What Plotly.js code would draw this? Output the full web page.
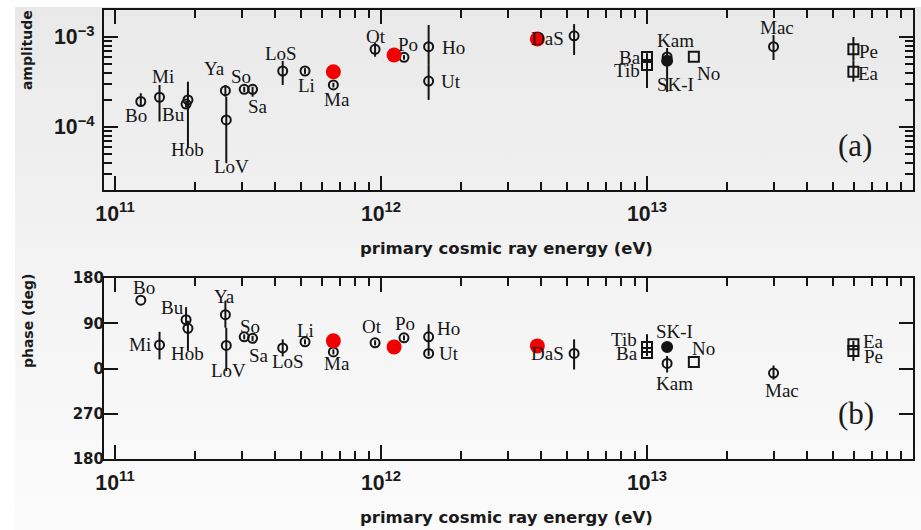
<!DOCTYPE html>
<html>
<head>
<meta charset="utf-8">
<script src="https://cdn.plot.ly/plotly-3.0.1.min.js"></script>
<style>
  html, body { margin: 0; padding: 0; background: #ffffff; }
  #wrap { position: relative; width: 921px; height: 530px; }
  #shade { position: absolute; left: 15px; top: 7px; right: 0; bottom: 0;
           background: linear-gradient(to bottom, #e9e9e9 0%, #f4f4f4 55%, #fbfbfb 100%); }
  #chart { position: absolute; left: 0; top: 0; width: 921px; height: 530px; }
</style>
</head>
<body>
<div id="wrap"><div id="shade"></div><div id="chart"></div></div>
<script>
// Sidereal first-harmonic anisotropy: amplitude and phase vs primary energy
const labels = ['Bo','Mi','Bu','Hob','Ya','LoV','So','Sa','LoS','Li','Ma','Ot','Po','Ho','Ut','DaS',
                'Ba','Tib','Kam','SK-I','No','Mac','Pe','Ea'];
const detectorType = ['underground','underground','underground','underground','underground','underground',
                      'underground','underground','underground','underground','underground','underground',
                      'underground','underground','underground','underground',
                      'air shower','air shower','underground','Super-K','air shower','underground',
                      'air shower','air shower'];
const energyEV = [1.25e11,1.47e11,1.85e11,1.88e11,2.60e11,2.62e11,3.06e11,3.29e11,4.27e11,5.18e11,
                  6.62e11,9.5e11,1.22e12,1.51e12,1.51e12,5.32e12,
                  1.0e13,1.0e13,1.19e13,1.19e13,1.5e13,2.99e13,5.97e13,5.97e13];
const amplitude = [1.92e-4,2.14e-4,1.80e-4,2.00e-4,2.53e-4,1.20e-4,2.62e-4,2.62e-4,4.19e-4,4.19e-4,
                   2.93e-4,7.30e-4,5.94e-4,7.80e-4,3.24e-4,1.03e-3,
                   6.00e-4,4.89e-4,6.00e-4,5.46e-4,6.05e-4,7.80e-4,7.30e-4,4.11e-4];
const amplitudeLow = [1.75e-4,1.15e-4,1.65e-4,5.8e-5,2.17e-4,3.96e-5,2.45e-4,2.17e-4,2.93e-4,3.90e-4,
                      2.75e-4,6.04e-4,5.60e-4,5.00e-4,2.00e-4,6.31e-4,
                      5.30e-4,2.71e-4,5.50e-4,2.45e-4,6.05e-4,5.55e-4,5.50e-4,3.19e-4];
const amplitudeHigh = [2.37e-4,2.93e-4,1.95e-4,3.19e-4,2.93e-4,2.17e-4,2.80e-4,2.80e-4,5.41e-4,4.50e-4,
                       3.10e-4,8.65e-4,6.30e-4,1.36e-3,5.00e-4,1.39e-3,
                       6.60e-4,5.50e-4,7.55e-4,6.00e-4,6.05e-4,1.05e-3,1.00e-3,5.50e-4];
const phaseDeg = [136,47,97,80,107,46,63,60,41,53,33,51,61,63,30,30,
                  31,43,10,43,13,-9,35,48];
const phaseLow = [136,18,85,35,81,-5,58,55,24,48,28,46,56,40,25,-2,
                  25,30,-8,35,13,-22,15,40];
const phaseHigh = [136,73,122,95,135,81,68,65,58,58,38,56,66,88,40,58,
                   40,68,25,52,13,6,42,55];

// Three points of the present analysis
const newEnergyEV = [6.62e11,1.12e12,3.87e12];
const newAmplitude = [4.11e-4,6.31e-4,9.5e-4];
const newPhaseDeg = [55,43,45];

const phaseTickVals = [-180,-90,0,90,180];
const phaseTickText = ['180','270','0','90','180'];

// drawing styles per detector type
const styleOf = {
  'underground': {symbol: 'circle-open', size: 9},
  'air shower':  {symbol: 'square-open', size: 10},
  'Super-K':     {symbol: 'circle', size: 10}
};

// label offsets in pixels (dx, dy) relative to each point
const ampLabelShift = {
  'Bo':[-5,-14],'Mi':[3,21],'Bu':[-13,-10],'Hob':[0,-50],'Ya':[-11,22],'LoV':[5,-47],
  'So':[-3,13],'Sa':[5,-17],'LoS':[-2,18],'Li':[1,-14],'Ma':[4,-15],'Ot':[1,13],'Po':[4,13],
  'Ho':[25,-1],'Ut':[22,0],'DaS':[-27,-3],'Ba':[-17,-1],'Tib':[-20,-6],'Kam':[8,16],
  'SK-I':[8,-24],'No':[15,-17],'Mac':[3,19],'Pe':[15,-2],'Ea':[15,-2]
};
const phaseLabelShift = {
  'Bo':[3,13],'Mi':[-20,0],'Bu':[-14,12],'Hob':[0,-25],'Ya':[-1,18],'LoV':[2,-25],
  'So':[6,10],'Sa':[6,-17],'LoS':[5,-14],'Li':[0,11],'Ma':[4,-12],'Ot':[-3,16],'Po':[1,14],
  'Ho':[20,8],'Ut':[20,0],'DaS':[-27,0],'Ba':[-20,-1],'Tib':[-23,7],'Kam':[7,-20],
  'SK-I':[7,15],'No':[10,13],'Mac':[8,-17],'Pe':[20,-6],'Ea':[20,3]
};

const ink = '#141414';
const traces = [];
Object.keys(styleOf).forEach(function (type) {
  const idx = [];
  detectorType.forEach(function (t, i) { if (t === type) idx.push(i); });
  const pick = function (arr) { return idx.map(function (i) { return arr[i]; }); };
  const st = styleOf[type];
  const marker = {symbol: st.symbol, size: st.size, color: ink, line: {color: ink, width: 2}};
  traces.push({
    x: pick(energyEV), y: pick(amplitude), xaxis: 'x', yaxis: 'y',
    type: 'scatter', mode: 'markers', marker: marker, showlegend: false, hoverinfo: 'skip',
    error_y: {type: 'data', symmetric: false,
              array: idx.map(function (i) { return amplitudeHigh[i] - amplitude[i]; }),
              arrayminus: idx.map(function (i) { return amplitude[i] - amplitudeLow[i]; }),
              color: ink, thickness: 2, width: 0}
  });
  traces.push({
    x: pick(energyEV), y: pick(phaseDeg), xaxis: 'x2', yaxis: 'y2',
    type: 'scatter', mode: 'markers', marker: marker, showlegend: false, hoverinfo: 'skip',
    error_y: {type: 'data', symmetric: false,
              array: idx.map(function (i) { return phaseHigh[i] - phaseDeg[i]; }),
              arrayminus: idx.map(function (i) { return phaseDeg[i] - phaseLow[i]; }),
              color: ink, thickness: 2, width: 0}
  });
});
const redMarker = {symbol: 'circle', size: 15, color: '#f20000', line: {width: 0}};
traces.push({x: newEnergyEV, y: newAmplitude, xaxis: 'x', yaxis: 'y', type: 'scatter',
             mode: 'markers', marker: redMarker, showlegend: false, hoverinfo: 'skip'});
traces.push({x: newEnergyEV, y: newPhaseDeg, xaxis: 'x2', yaxis: 'y2', type: 'scatter',
             mode: 'markers', marker: redMarker, showlegend: false, hoverinfo: 'skip'});

const labelFont = {family: 'Liberation Serif, Times New Roman, serif', size: 19, color: '#151515'};
const annotations = [];
labels.forEach(function (name, i) {
  const a = ampLabelShift[name], p = phaseLabelShift[name];
  annotations.push({xref: 'x', yref: 'y', x: Math.log10(energyEV[i]), y: Math.log10(amplitude[i]),
                    text: name, showarrow: false, xshift: a[0], yshift: a[1], font: labelFont,
                    xanchor: 'center', yanchor: 'middle'});
  annotations.push({xref: 'x2', yref: 'y2', x: Math.log10(energyEV[i]), y: phaseDeg[i],
                    text: name, showarrow: false, xshift: p[0], yshift: p[1], font: labelFont,
                    xanchor: 'center', yanchor: 'middle'});
});

const sideTitleFont = {family: 'DejaVu Sans, Liberation Sans, sans-serif', size: 14, color: '#1a1a1a', weight: 'bold'};
const baseTitleFont = {family: 'DejaVu Sans, Liberation Sans, sans-serif', size: 16.5, color: '#1a1a1a', weight: 'bold'};
const panelFont = {family: 'Liberation Serif, serif', size: 31, color: '#1a1a1a'};
function paperNote(x, y, text, font, angle) {
  return {xref: 'paper', yref: 'paper', x: x, y: y, text: text, showarrow: false, font: font,
          textangle: angle || 0, xanchor: 'center', yanchor: 'middle'};
}
annotations.push(
  paperNote(-0.095, 0.911, 'amplitude', sideTitleFont, -90),
  paperNote(-0.094, 0.307, 'phase (deg)', sideTitleFont, -90),
  paperNote(0.498, 0.468, 'primary cosmic ray energy (eV)', baseTitleFont),
  paperNote(0.498, -0.131, 'primary cosmic ray energy (eV)', baseTitleFont),
  paperNote(0.928, 0.699, '(a)', panelFont),
  paperNote(0.9295, 0.1024, '(b)', panelFont)
);

const logTickFont = {family: 'Liberation Sans, Arial, sans-serif', size: 17, color: '#1a1a1a', weight: 'bold'};
const phaseTickFont = {family: 'DejaVu Sans, sans-serif', size: 15, color: '#1a1a1a', weight: 'bold'};
const frame = {showline: true, linecolor: ink, linewidth: 2, mirror: 'ticks', ticks: 'inside',
               ticklen: 14, tickwidth: 2, tickcolor: ink, showgrid: false, zeroline: false,
               tickfont: logTickFont, fixedrange: true};
const logMinor = {ticks: 'inside', ticklen: 8, tickwidth: 2, tickcolor: ink, dtick: 'D1', showgrid: false};
function energyAxis(anchor) {
  return Object.assign({}, frame, {
    type: 'log', range: [10.9586, 14.0], domain: [0, 1], anchor: anchor,
    dtick: 1, exponentformat: 'power', showexponent: 'all', ticklabelstandoff: 4, minor: logMinor
  });
}

const layout = {
  width: 921, height: 530,
  margin: {l: 104, r: 8, t: 10, b: 71},
  paper_bgcolor: 'rgba(0,0,0,0)', plot_bgcolor: 'rgba(0,0,0,0)',
  showlegend: false,
  xaxis: energyAxis('y'),
  xaxis2: energyAxis('y2'),
  yaxis: Object.assign({}, frame, {
    type: 'log', range: [-4.7, -2.7], domain: [0.5991, 1], anchor: 'x',
    dtick: 1, exponentformat: 'power', showexponent: 'all', ticklabelstandoff: 4, minor: logMinor
  }),
  yaxis2: Object.assign({}, frame, {
    range: [-180, 180], domain: [0, 0.4031], anchor: 'x2', tickfont: phaseTickFont,
    tickmode: 'array', tickvals: phaseTickVals, ticktext: phaseTickText, ticklabelstandoff: -5
  }),
  annotations: annotations
};

Plotly.newPlot('chart', traces, layout, {displayModeBar: false, staticPlot: true});
</script>
</body>
</html>
